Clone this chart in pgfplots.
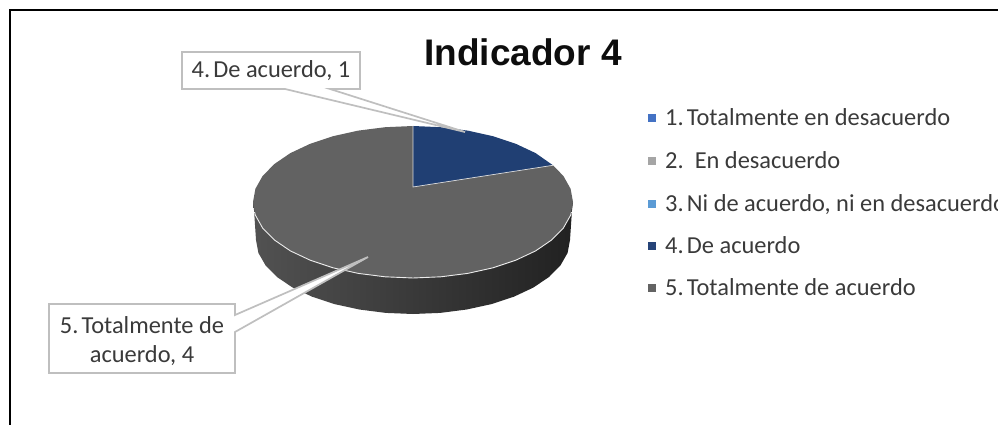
\documentclass[border=0pt]{standalone}
\usepackage{pgfplots}
\pgfplotsset{compat=1.18}
\usepackage{fontspec}
\setmainfont{Carlito}
\newfontfamily\titlefont{Liberation Sans}
\definecolor{txt}{HTML}{3A3A3A}
\definecolor{lead}{HTML}{BFBFBF}
\definecolor{topg}{HTML}{626262}
\definecolor{blues}{HTML}{203F73}
\definecolor{la}{HTML}{4472C4}
\definecolor{lb}{HTML}{A5A5A5}
\definecolor{lc}{HTML}{5B9BD5}
\definecolor{ld}{HTML}{264478}
\definecolor{le}{HTML}{636363}
\newcommand{\g}{\kern0.13em}
\begin{document}
\begin{tikzpicture}[x=1pt,y=1pt]
\useasboundingbox (0,0) rectangle (998,425);
\begin{axis}[at={(0,0)},anchor=south west,scale only axis,width=998pt,height=425pt,
  xmin=0,xmax=998,ymin=0,ymax=425,y dir=reverse,hide axis,clip=false]
% frame
\addplot[black,line width=1.8pt,forget plot] coordinates {(10,425)(10,10)(998,10)};
% side wall
\addplot[draw=none,left color=black!68,middle color=black!79,right color=black!87,forget plot] coordinates {
(253,202)(254,210)(256,240)(258.4,252.9)(265.5,265.3)(277,277)(292.7,287.6)(312.1,296.7)(334.5,304.1)(359.3,309.5)(385.7,312.9)(413,314)
(440.3,312.9)(466.7,309.5)(491.5,304.1)(513.9,296.7)(533.3,287.6)(549,277)(560.5,265.3)(567.6,252.9)(570,240)(572,210)(573,202)} --cycle;
% top ellipse: slice 5
\addplot[fill=topg,draw=none,forget plot] coordinates {
(413,126)(413,187)(553,165.3)(563.4,176)(570.6,188.8)(573,202)(570.6,215.2)(563.4,228)(551.6,240)(535.6,250.9)(515.8,260.2)(493,267.8)(467.7,273.4)(440.8,276.8)(413,278)
(385.2,276.8)(358.3,273.4)(333,267.8)(310.2,260.2)(290.4,250.9)(274.4,240)(262.6,228)(255.4,215.2)(253,202)(255.4,188.8)(262.6,176)(274.4,164)(290.4,153.1)(310.2,143.8)(333,136.2)(358.3,130.6)(385.2,127.2)} --cycle;
% top ellipse: slice 4
\addplot[fill=blues,draw=none,forget plot] coordinates {
(413,126)(440.8,127.2)(467.7,130.6)(493,136.2)(515.8,143.8)(535.6,153.1)(553,165.3)(413,187)} --cycle;
% rim and divider lines
\addplot[white!85!gray,line width=0.9pt,forget plot] coordinates {
(254.5,212)(255.4,215.2)(262.6,228)(274.4,240)(290.4,250.9)(310.2,260.2)(333,267.8)(358.3,273.4)(385.2,276.8)(413,278)(440.8,276.8)(467.7,273.4)(493,267.8)(515.8,260.2)(535.6,250.9)(551.6,240)(563.4,228)(570.6,215.2)(571.5,212)};
\addplot[white!70!gray,line width=0.7pt,forget plot] coordinates {(413,126)(413,187)(553,165.3)};
% callouts
\addplot[fill=white,draw=lead,line width=1.7pt,forget plot] coordinates {
(182,52)(360,52)(360,89)(330,89)(465,132)(285,89)(182,89)} --cycle;
\addplot[fill=white,draw=lead,line width=1.7pt,forget plot] coordinates {
(49,304)(235,304)(235,315)(368,257)(235,332)(235,373)(49,373)} --cycle;
% legend markers
\addplot[only marks,mark=square*,mark size=3.6pt,mark options={draw=la,fill=la},forget plot] coordinates {(652,118)};
\addplot[only marks,mark=square*,mark size=3.6pt,mark options={draw=lb,fill=lb},forget plot] coordinates {(652,161)};
\addplot[only marks,mark=square*,mark size=3.6pt,mark options={draw=lc,fill=lc},forget plot] coordinates {(652,204)};
\addplot[only marks,mark=square*,mark size=3.6pt,mark options={draw=ld,fill=ld},forget plot] coordinates {(652,246)};
\addplot[only marks,mark=square*,mark size=3.6pt,mark options={draw=le,fill=le},forget plot] coordinates {(652,288)};
% texts
\tikzset{lg/.style={anchor=base west,font=\fontsize{24.4}{29}\selectfont,text=txt,inner sep=0pt}}
\node[lg] at (axis cs:665,125) {1.\g Totalmente en desacuerdo};
\node[lg] at (axis cs:665,168) {2.\ \ En desacuerdo};
\node[lg] at (axis cs:665,211) {3.\g Ni de acuerdo, ni en desacuerdo};
\node[lg] at (axis cs:665,253) {4.\g De acuerdo};
\node[lg] at (axis cs:665,295) {5.\g Totalmente de acuerdo};
\tikzset{cl/.style={anchor=base,font=\fontsize{24.4}{29}\selectfont,text=txt,inner sep=0pt}}
\node[cl] at (axis cs:271,78) {4.\g De acuerdo, 1};
\node[cl] at (axis cs:142,333) {5.\g Totalmente de};
\node[cl] at (axis cs:142,362) {acuerdo, 4};
\node[anchor=base,font=\titlefont\bfseries\fontsize{37}{44}\selectfont,text=black!95,inner sep=0pt] at (axis cs:523,66) {Indicador 4};
\end{axis}
\end{tikzpicture}
\end{document}
